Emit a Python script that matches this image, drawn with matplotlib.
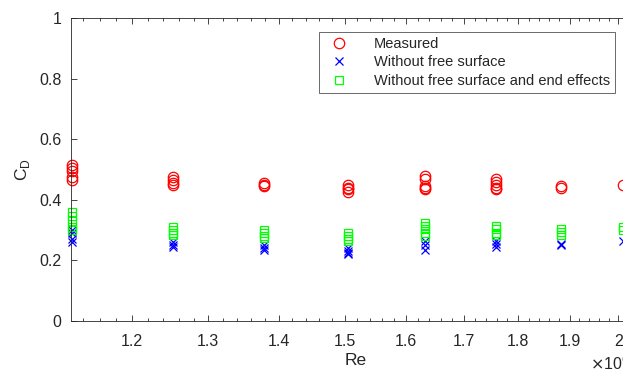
import matplotlib
matplotlib.use("Agg")
import matplotlib.pyplot as plt
from matplotlib.ticker import FixedLocator, NullFormatter

plt.rcParams["font.family"] = ["Liberation Sans", "DejaVu Sans"]

# Reynolds numbers of the test runs (x1e6)
re_runs = [1.127, 1.253, 1.379, 1.505, 1.632, 1.758, 1.884, 2.010]

# drag coefficient readings at each Re
cd_measured = [
    [0.515, 0.505, 0.495, 0.475, 0.465],
    [0.475, 0.465, 0.455, 0.450],
    [0.455, 0.450, 0.445],
    [0.450, 0.440, 0.435, 0.425],
    [0.480, 0.470, 0.445, 0.440, 0.435],
    [0.470, 0.460, 0.450, 0.440, 0.435],
    [0.445, 0.440],
    [0.450],
]
cd_no_free_surface = [
    [0.300, 0.290, 0.270, 0.260],
    [0.260, 0.250, 0.245],
    [0.250, 0.240, 0.235],
    [0.240, 0.230, 0.225, 0.220],
    [0.265, 0.250, 0.235],
    [0.265, 0.255, 0.245],
    [0.255, 0.250],
    [0.265],
]
cd_no_end_effects = [
    [0.360, 0.345, 0.330, 0.310, 0.300],
    [0.310, 0.300, 0.290, 0.285],
    [0.300, 0.290, 0.280, 0.275],
    [0.290, 0.280, 0.270, 0.265],
    [0.325, 0.315, 0.305, 0.290, 0.280],
    [0.315, 0.305, 0.290, 0.285],
    [0.305, 0.295, 0.285],
    [0.310, 0.300],
]

x_ticks = [1.2, 1.3, 1.4, 1.5, 1.6, 1.7, 1.8, 1.9, 2.0]
x_tick_labels = ["1.2", "1.3", "1.4", "1.5", "1.6", "1.7", "1.8", "1.9", "2"]
y_ticks = [0, 0.2, 0.4, 0.6, 0.8, 1.0]
y_tick_labels = ["0", "0.2", "0.4", "0.6", "0.8", "1"]


def flatten(groups):
    xs, ys = [], []
    for re, vals in zip(re_runs, groups):
        for v in vals:
            xs.append(re * 1e6)
            ys.append(v)
    return xs, ys


W, H = 623, 372
fig = plt.figure(figsize=(W / 100, H / 100), dpi=100)
# axes runs a little past the right edge, like the cropped original
left, right, top, bottom = 71, 640, 18, 321
ax = fig.add_axes([left / W, 1 - bottom / H, (right - left) / W, (bottom - top) / H])

series = [
    (cd_measured, "o", "#ff0000", 7.5, "Measured"),
    (cd_no_free_surface, "x", "#0000ff", 5.5, "Without free surface"),
    (cd_no_end_effects, "s", "#00ff00", 6.0, "Without free surface and end effects"),
]
for groups, marker, color, size, label in series:
    xs, ys = flatten(groups)
    ax.plot(xs, ys, linestyle="none", marker=marker, markersize=size,
            markerfacecolor="none", markeredgecolor=color, markeredgewidth=0.9,
            label=label, clip_on=False)

ax.set_xscale("log")
ax.set_xlim(1.1254e6, 2.046e6)
ax.set_ylim(0, 1)

ax.xaxis.set_major_locator(FixedLocator([t * 1e6 for t in x_ticks]))
ax.set_xticklabels(x_tick_labels)
minor = [round(1.14 + 0.02 * i, 2) * 1e6 for i in range(46)]
ax.xaxis.set_minor_locator(FixedLocator(minor))
ax.xaxis.set_minor_formatter(NullFormatter())
ax.set_yticks(y_ticks)
ax.set_yticklabels(y_tick_labels)

ax.tick_params(axis="both", which="both", direction="in", top=True, right=True,
               labelsize=11.5, labelcolor="#262626", color="#262626", width=0.6)
ax.tick_params(which="major", length=4)
ax.tick_params(which="minor", length=2)
ax.tick_params(axis="x", pad=9)
ax.tick_params(axis="y", pad=7)
for s in ax.spines.values():
    s.set_color("#262626")
    s.set_linewidth(0.6)

ax.set_xlabel("Re", fontsize=12.5, color="#262626", labelpad=3)
ax.set_ylabel("C$_\\mathregular{D}$", fontsize=12.5, color="#262626", labelpad=5)
fig.text(590 / W, 1 - 364 / H, "$\\times$10$^\\mathregular{6}$", fontsize=11.5,
         color="#262626", va="center", ha="left")

leg = ax.legend(loc="upper left",
                bbox_to_anchor=((319 - left) / (right - left), 1 - (32 - top) / (bottom - top)),
                fontsize=10.5, frameon=True, fancybox=False, borderpad=0.35,
                handletextpad=1.4, labelspacing=0.3, handlelength=2.0, borderaxespad=0)
leg.get_frame().set_edgecolor("#262626")
leg.get_frame().set_linewidth(0.6)
for t in leg.get_texts():
    t.set_color("#262626")

fig.savefig("out.png", dpi=100)
